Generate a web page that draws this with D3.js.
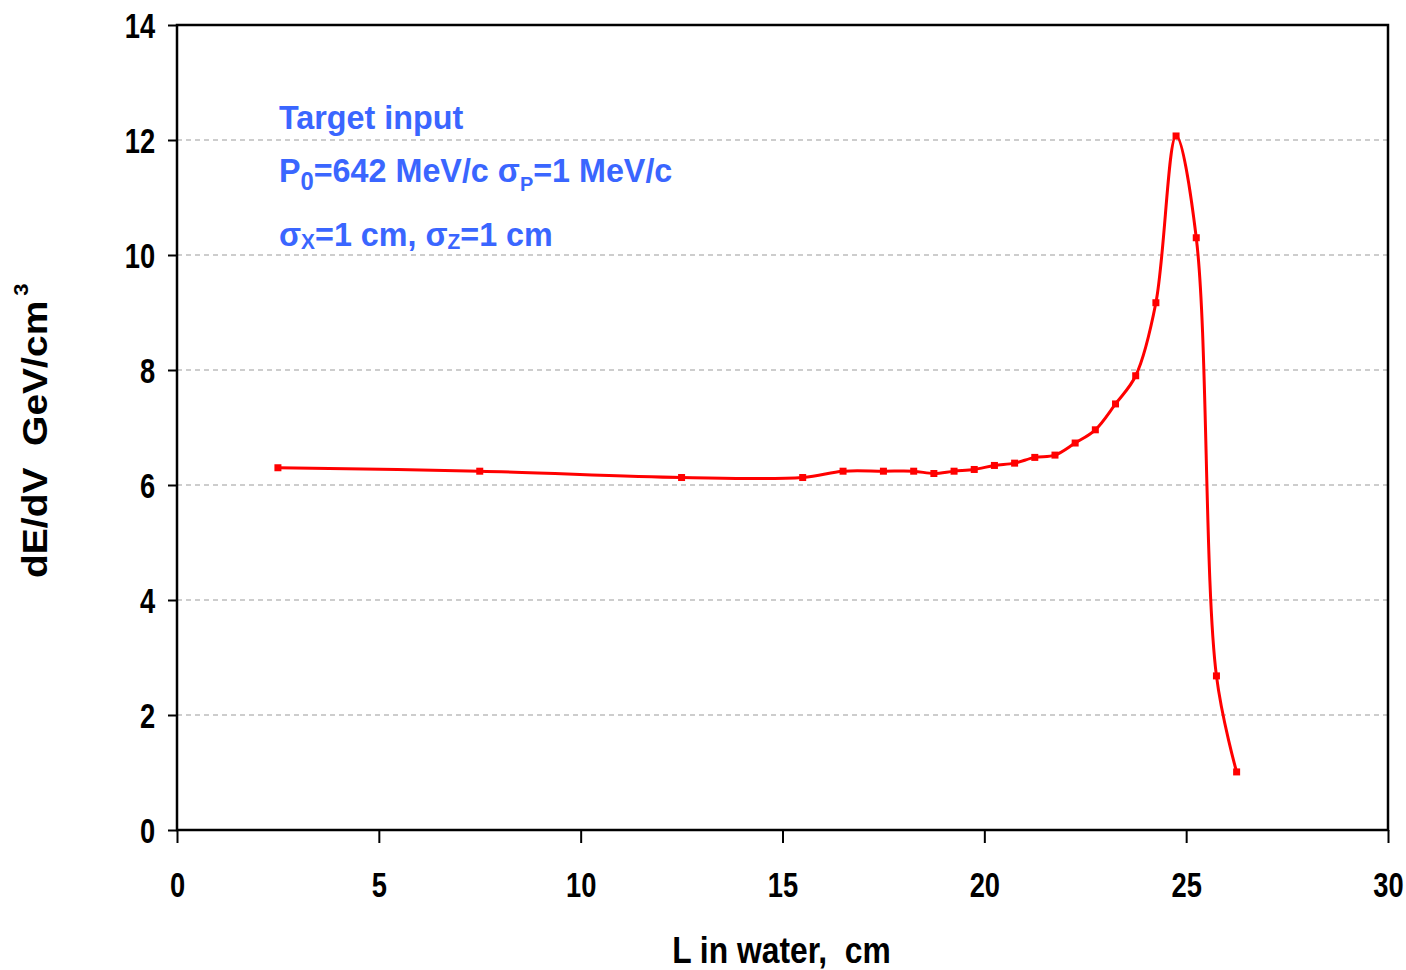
<!DOCTYPE html>
<html lang="en">
<head>
  <meta charset="UTF-8" />
  <title>dE/dV in water</title>
  <script src="https://d3js.org/d3.v7.min.js"></script>
  <style>
    body { margin: 0; background: #fff; }
    svg text { font-family: "Liberation Sans", Arial, sans-serif; font-weight: bold; white-space: pre; }
  </style>
</head>
<body>
  <script>
    // values
    const lengths = [2.5, 7.5, 12.5, 15.5, 16.5, 17.5, 18.25, 18.75, 19.25, 19.75, 20.25, 20.75,
      21.25, 21.75, 22.25, 22.75, 23.25, 23.75, 24.25, 24.75, 25.25, 25.75, 26.25];
    const dEdV = [6.30, 6.24, 6.13, 6.13, 6.24, 6.24, 6.24, 6.20, 6.24, 6.27, 6.34, 6.38,
      6.48, 6.52, 6.73, 6.96, 7.41, 7.90, 9.17, 12.07, 10.30, 2.68, 1.01];
    const xTicks = [0, 5, 10, 15, 20, 25, 30];
    const yTicks = [0, 2, 4, 6, 8, 10, 12, 14];
    const gridValues = [2, 4, 6, 8, 10, 12];

    const points = lengths.map((l, i) => ({ x: l, y: dEdV[i] }));

    const width = 1406, height = 970;
    const margin = { top: 25, right: 18, bottom: 140, left: 177 };

    const x = d3.scaleLinear().domain([0, 30]).range([margin.left, width - margin.right]);
    const y = d3.scaleLinear().domain([0, 14]).range([height - margin.bottom, margin.top]);

    const svg = d3.select('body').append('svg')
      .attr('width', width)
      .attr('height', height);

    // dashed grid
    svg.append('g')
      .selectAll('line')
      .data(gridValues)
      .join('line')
      .attr('x1', x(0)).attr('x2', x(30))
      .attr('y1', d => y(d)).attr('y2', d => y(d))
      .attr('stroke', '#bdbdbd')
      .attr('stroke-width', 1.5)
      .attr('stroke-dasharray', '5,4');

    //axes
    const xAxis = svg.append('g')
      .attr('transform', `translate(0,${y(0)})`)
      .call(d3.axisBottom(x).tickValues(xTicks).tickSize(13).tickSizeOuter(0));
    xAxis.select('.domain').remove();
    xAxis.selectAll('line').attr('stroke', '#000').attr('stroke-width', 2);
    xAxis.selectAll('text')
      .attr('y', 42)
      .attr('dy', '0.71em')
      .attr('transform', 'scale(0.78,1)')
      .style('font-size', '35px')
      .attr('fill', '#000');

    const yAxis = svg.append('g')
      .attr('transform', `translate(${x(0)},0)`)
      .call(d3.axisLeft(y).tickValues(yTicks).tickSize(9).tickSizeOuter(0));
    yAxis.select('.domain').remove();
    yAxis.selectAll('line').attr('stroke', '#000').attr('stroke-width', 2);
    yAxis.selectAll('text')
      .attr('x', -28)
      .attr('dy', '0.36em')
      .attr('transform', 'scale(0.78,1)')
      .style('font-size', '35px')
      .attr('fill', '#000');

    // frame
    svg.append('rect')
      .attr('x', x(0)).attr('y', y(14))
      .attr('width', x(30) - x(0)).attr('height', y(0) - y(14))
      .attr('fill', 'none')
      .attr('stroke', '#000')
      .attr('stroke-width', 2.5);

    // curve
    const line = d3.line()
      .x(d => x(d.x))
      .y(d => y(d.y))
      .curve(d3.curveCatmullRom.alpha(0.5));

    svg.append('path')
      .datum(points)
      .attr('d', line)
      .attr('fill', 'none')
      .attr('stroke', '#ff0000')
      .attr('stroke-width', 3);

    svg.append('g')
      .selectAll('rect')
      .data(points)
      .join('rect')
      .attr('x', d => x(d.x) - 3.5)
      .attr('y', d => y(d.y) - 3.5)
      .attr('width', 7)
      .attr('height', 7)
      .attr('fill', '#ff0000');

    // annotation
    const blue = '#3a66ff';
    const note = svg.append('g')
      .attr('transform', 'translate(279,0) scale(0.95,1)')
      .attr('fill', blue)
      .style('font-size', '34px');

    note.append('text').attr('x', 0).attr('y', 129).text('Target input');

    const l2 = note.append('text').attr('x', 0).attr('y', 182);
    l2.append('tspan').text('P');
    l2.append('tspan').attr('dy', 8).style('font-size', '25px').text('0');
    l2.append('tspan').attr('dy', -8).text('=642 MeV/c σ');
    l2.append('tspan').attr('dy', 9).style('font-size', '21px').text('P');
    l2.append('tspan').attr('dy', -9).text('=1 MeV/c');

    const l3 = note.append('text').attr('x', 0).attr('y', 246);
    l3.append('tspan').text('σ');
    l3.append('tspan').attr('dy', 3).style('font-size', '22px').text('X');
    l3.append('tspan').attr('dy', -3).text('=1 cm, σ');
    l3.append('tspan').attr('dy', 3).style('font-size', '22px').text('Z');
    l3.append('tspan').attr('dy', -3).text('=1 cm');

    // axis titles
    svg.append('text')
      .attr('transform', `translate(${(x(0) + x(30)) / 2 - 1},963) scale(0.86,1)`)
      .attr('text-anchor', 'middle')
      .style('font-size', '37px')
      .text('L in water,  cm');

    const yt = svg.append('text')
      .attr('transform', 'translate(47,578) rotate(-90) scale(1,0.88)')
      .attr('text-anchor', 'start')
      .style('font-size', '39px');
    yt.append('tspan').text('dE/dV  GeV/cm');
    yt.append('tspan').attr('dx', 5).attr('dy', -22).style('font-size', '22px').text('3');
  </script>
</body>
</html>
